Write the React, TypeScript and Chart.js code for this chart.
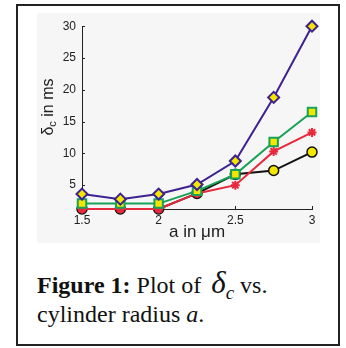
import React, { useEffect, useRef } from "react";
import { Chart, registerables } from "chart.js";

Chart.register(...registerables);

const radii = [1.5, 1.75, 2, 2.25, 2.5, 2.75, 3];
const purpleSeries = [3.6, 2.8, 3.6, 5.1, 8.8, 18.8, 30];
const greenSeries = [2.1, 2.1, 2.1, 4.1, 6.7, 11.8, 16.5];
const redSeries = [1.25, 1.25, 1.25, 3.7, 5.0, 10.3, 13.3];
const blackSeries = [1.25, 1.25, 1.25, 3.7, 6.7, 7.3, 10.2];
const xTicks = [1.5, 2, 2.5, 3];
const yTicks = [5, 10, 15, 20, 25, 30];

const PURPLE = "#3d2290";
const GREEN = "#17a257";
const RED = "#e8283c";
const YELLOW = "#f4e600";
const BLACK = "#111111";
const FONT = "'Liberation Sans', Arial, Helvetica, sans-serif";

const pts = (ys: number[]) => radii.map((x, i) => ({ x, y: ys[i] }));

const inwardTicks = {
  id: "inwardTicks",
  beforeDatasetsDraw(chart: any) {
    const { ctx, scales } = chart;
    const xs = scales.x;
    const ys = scales.y;
    ctx.save();
    ctx.strokeStyle = "#222";
    ctx.lineWidth = 1;
    ctx.beginPath();
    yTicks.forEach((v) => {
      const py = Math.round(ys.getPixelForValue(v)) + 0.5;
      ctx.moveTo(xs.left, py);
      ctx.lineTo(xs.left + 3, py);
    });
    xTicks.forEach((v) => {
      const px = Math.round(xs.getPixelForValue(v)) + 0.5;
      ctx.moveTo(px, ys.bottom);
      ctx.lineTo(px, ys.bottom - 3);
    });
    ctx.stroke();
    ctx.restore();
  },
};

const yTitle = {
  id: "yTitle",
  afterDraw(chart: any) {
    const { ctx } = chart;
    ctx.save();
    ctx.translate(10, 94);
    ctx.rotate(-Math.PI / 2);
    ctx.fillStyle = "#222";
    ctx.textBaseline = "alphabetic";
    const big = "16px " + FONT;
    const small = "11px " + FONT;
    ctx.font = big;
    const wD = ctx.measureText("\u03b4").width;
    const wRest = ctx.measureText(" in ms").width;
    ctx.font = small;
    const wC = ctx.measureText("c").width;
    const total = wD + wC + wRest;
    let x = -total / 2;
    const base = 6;
    ctx.font = big;
    ctx.fillText("\u03b4", x, base);
    x += wD;
    ctx.font = small;
    ctx.fillText("c", x, base + 3);
    x += wC;
    ctx.font = big;
    ctx.fillText(" in ms", x, base);
    ctx.restore();
  },
};

function ChartBox() {
  const ref = useRef<HTMLCanvasElement | null>(null);
  useEffect(() => {
    if (!ref.current) return;
    const chart = new Chart(ref.current, {
      type: "line",
      data: {
        datasets: [
          {
            data: pts(purpleSeries),
            borderColor: PURPLE,
            borderWidth: 2,
            pointStyle: "rectRot",
            pointRadius: 5.5,
            pointBorderWidth: 2,
            pointBorderColor: PURPLE,
            pointBackgroundColor: YELLOW,
            clip: false,
          },
          {
            data: pts(greenSeries),
            borderColor: GREEN,
            borderWidth: 2,
            pointStyle: "rect",
            pointRadius: 6,
            pointBorderWidth: 2,
            pointBorderColor: GREEN,
            pointBackgroundColor: YELLOW,
            clip: false,
          },
          {
            data: pts(redSeries),
            borderColor: RED,
            borderWidth: 2,
            pointStyle: "star",
            pointRadius: 4.5,
            pointBorderWidth: 2,
            pointBorderColor: RED,
            pointBackgroundColor: RED,
            clip: false,
          },
          {
            data: pts(blackSeries),
            borderColor: BLACK,
            borderWidth: 2,
            pointStyle: "circle",
            pointRadius: 5,
            pointBorderWidth: 1.5,
            pointBorderColor: BLACK,
            pointBackgroundColor: [RED, RED, RED, RED, YELLOW, YELLOW, YELLOW],
            clip: false,
          },
        ],
      },
      options: {
        animation: false,
        responsive: true,
        maintainAspectRatio: false,
        layout: { padding: { top: 12, right: 5, left: 0, bottom: 0 } },
        plugins: { legend: { display: false }, tooltip: { enabled: false } },
        scales: {
          x: {
            type: "linear",
            min: 1.5,
            max: 3,
            afterBuildTicks: (s: any) => {
              s.ticks = xTicks.map((v) => ({ value: v }));
            },
            afterFit: (s: any) => {
              s.height = 34;
            },
            grid: { display: true, drawOnChartArea: false, drawTicks: false, tickLength: 0, color: "rgba(0,0,0,0)" },
            border: { display: true, color: "#222", width: 1 },
            ticks: {
              color: "#222",
              font: { family: FONT, size: 12 },
              padding: 4,
              maxRotation: 0,
              callback: (v: any) => String(v),
            },
            title: {
              display: true,
              text: "a in \u03bcm",
              color: "#222",
              font: { family: FONT, size: 17 },
              padding: { top: 0, bottom: 0 },
            },
          },
          y: {
            type: "linear",
            min: 1.25,
            max: 30,
            afterBuildTicks: (s: any) => {
              s.ticks = yTicks.map((v) => ({ value: v }));
            },
            afterFit: (s: any) => {
              s.width = 45;
            },
            grid: { display: true, drawOnChartArea: false, drawTicks: false, tickLength: 0, color: "rgba(0,0,0,0)" },
            border: { display: true, color: "#222", width: 1 },
            ticks: {
              color: "#222",
              font: { family: FONT, size: 12 },
              padding: 6,
              callback: (v: any) => String(v),
            },
          },
        },
      },
      plugins: [inwardTicks, yTitle],
    });
    return () => chart.destroy();
  }, []);
  return (
    <div
      style={{
        position: "absolute",
        left: 37,
        top: 13,
        width: 283,
        height: 230,
        background: "#f6f6f6",
      }}
    >
      <canvas ref={ref} />
    </div>
  );
}

export default function App() {
  const serif = "'Liberation Serif', 'Times New Roman', Times, serif";
  return (
    <div>
      <div
        style={{
          position: "absolute",
          left: 16,
          top: 4,
          width: 324,
          height: 342,
          border: "2px solid #222",
          boxSizing: "border-box",
          background: "#fff",
        }}
      />
      <ChartBox />
      <div
        style={{
          position: "absolute",
          left: 37,
          top: 271,
          fontFamily: serif,
          fontSize: 24,
          lineHeight: "29px",
          color: "#111",
          whiteSpace: "nowrap",
        }}
      >
        <div>
          <b>Figure 1:</b> Plot of{" "}
          <span style={{ fontStyle: "italic", fontSize: 31, lineHeight: 0, marginLeft: 4 }}>
            {"\u03b4"}
          </span>
          <span
            style={{
              fontStyle: "italic",
              fontSize: 19,
              lineHeight: 0,
              position: "relative",
              top: 6,
            }}
          >
            c
          </span>{" "}
          vs.
        </div>
        <div>
          cylinder radius <i>a</i>.
        </div>
      </div>
    </div>
  );
}
